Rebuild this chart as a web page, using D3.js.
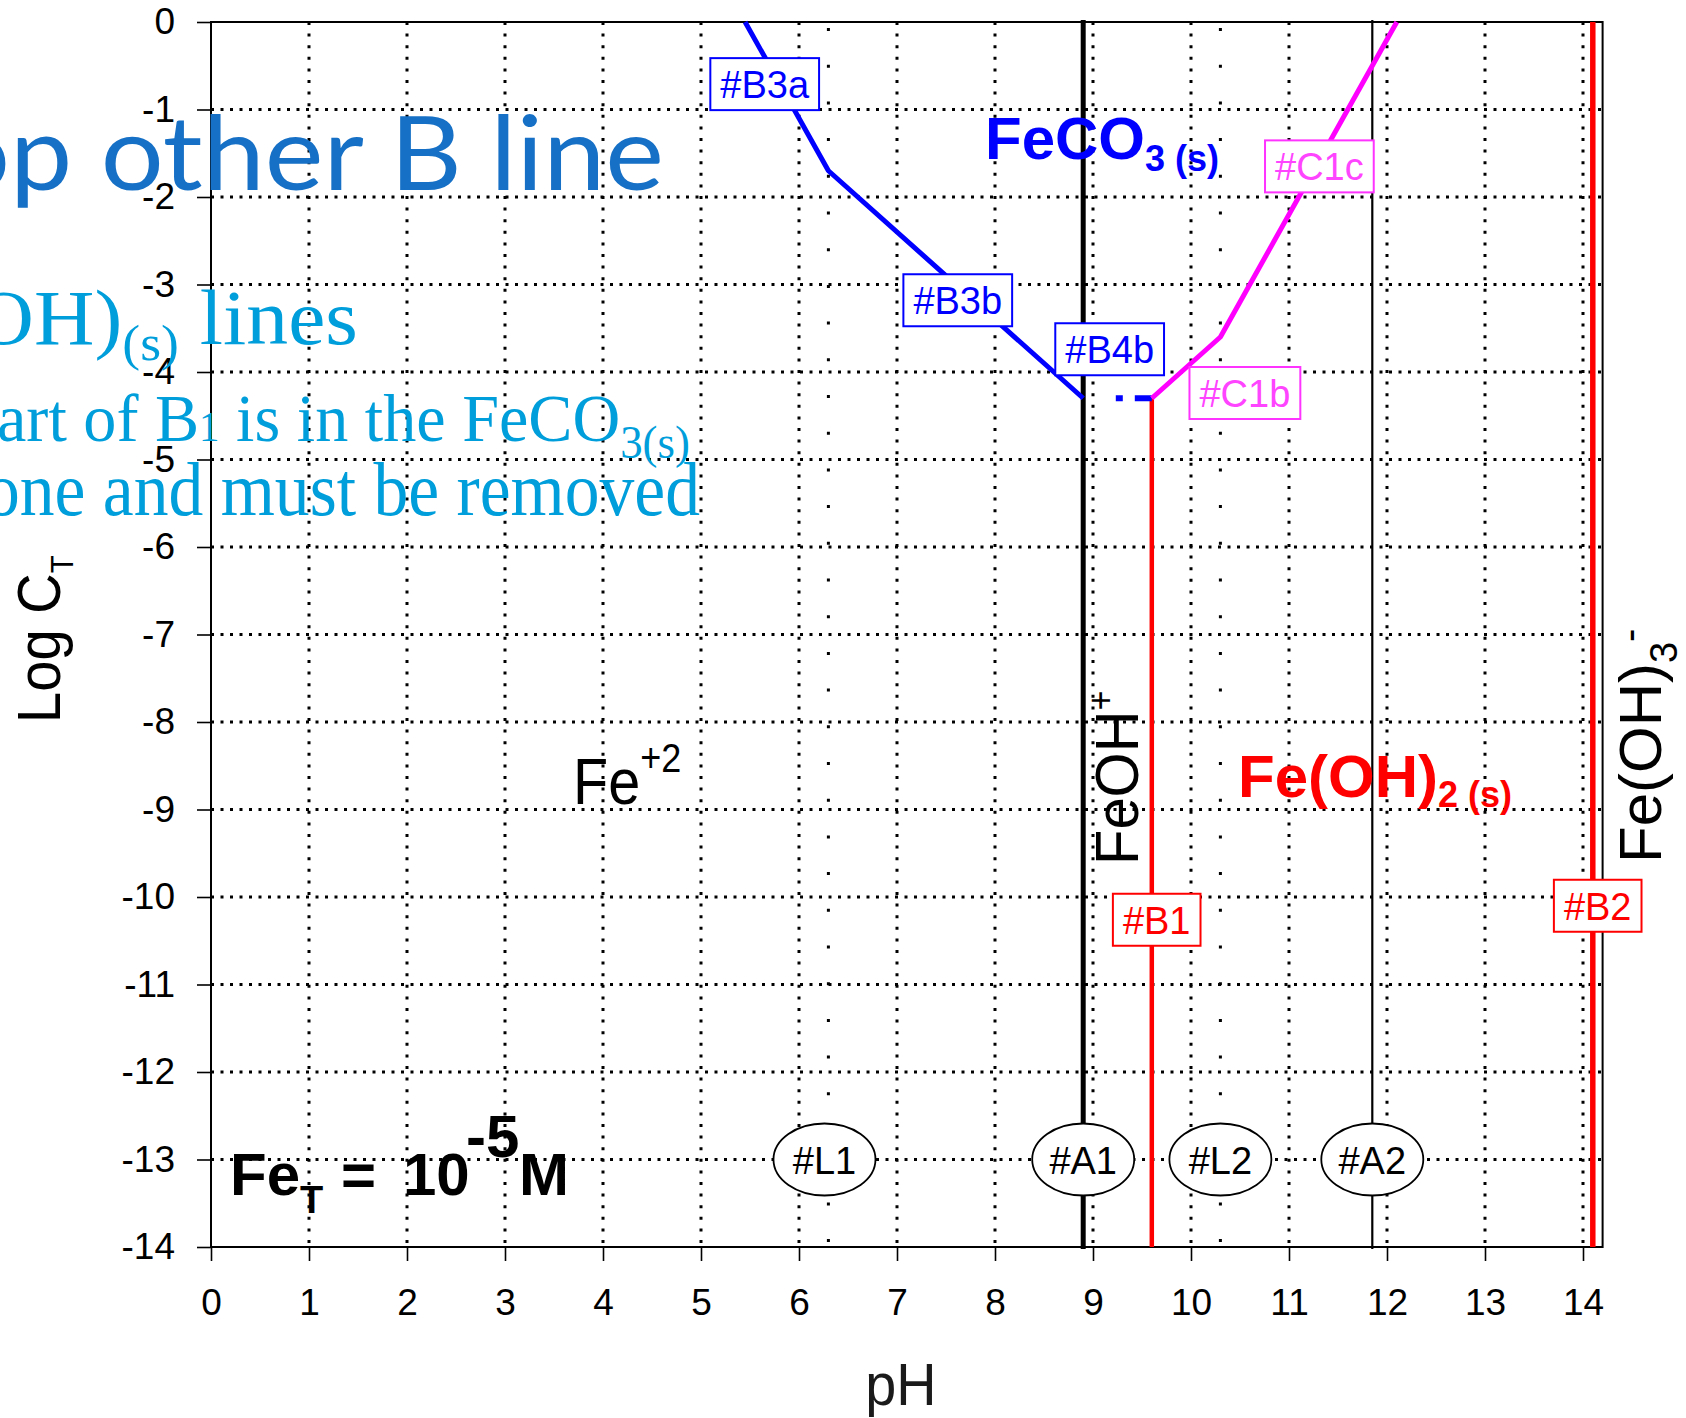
<!DOCTYPE html>
<html>
<head>
<meta charset="utf-8">
<script src="https://cdn.jsdelivr.net/npm/d3@7"></script>
<style>
  body { margin: 0; background: #fff; }
  svg { display: block; }
</style>
</head>
<body>
<svg id="chart" width="1686" height="1418"></svg>
<script>
// ---- Axis ticks ----
const pHTicks  = [0, 1, 2, 3, 4, 5, 6, 7, 8, 9, 10, 11, 12, 13, 14];
const logTicks = [0, -1, -2, -3, -4, -5, -6, -7, -8, -9, -10, -11, -12, -13, -14];

// ---- Species boundaries (pH) ----
const acidBaseNames = ["#A1", "#A2"];
const acidBasePH    = [8.9, 11.85];
const pKaNames      = ["#L1", "#L2"];
const pKaPH         = [6.3, 10.3];

// ---- Solubility lines [pH, log C] ----
const lineB1  = [[9.6, -14], [9.6, -4.3]];
const lineB2  = [[14.1, 0], [14.1, -14]];
const lineB3  = [[5.45, 0], [6.3, -1.7], [8.9, -4.3]];
const lineB4  = [[9.6, -4.3], [8.9, -4.3]];
const lineC1  = [[9.6, -4.3], [10.3, -3.6], [12.1, 0]];

// ---- Circled markers along log C = -13 ----
const markerNames = ["#L1", "#A1", "#L2", "#A2"];
const markerPH    = [6.26, 8.9, 10.3, 11.85];
const markerLog   = [-13, -13, -13, -13];

// ---- Boxed line labels ----
const boxNames = ["#B3a", "#B3b", "#B4b", "#C1c", "#C1b", "#B1", "#B2"];
const boxPH    = [5.65, 7.62, 9.17, 11.31, 10.55, 9.65, 14.15];
const boxLog   = [-0.71, -3.18, -3.74, -1.65, -4.24, -10.26, -10.10];

const SANS  = "'Liberation Sans', Arial, Helvetica, sans-serif";
const SERIF = "'Liberation Serif', 'Times New Roman', serif";

const svg = d3.select("#chart");
const x = d3.scaleLinear().domain([0, 14.2]).range([211, 1602.6]);
const y = d3.scaleLinear().domain([0, -14]).range([22, 1247]);
const line = d3.line().x(d => x(d[0])).y(d => y(d[1]));

// ---- Dotted grid ----
const grid = svg.append("g");
grid.selectAll("line.h").data(logTicks.filter(d => d < 0 && d > -14)).join("line")
  .attr("x1", x(0)).attr("x2", x(14.2)).attr("y1", d => y(d)).attr("y2", d => y(d))
  .attr("stroke", "#000").attr("stroke-width", 3).attr("stroke-dasharray", "3,6.5");
grid.selectAll("line.v").data(pHTicks.filter(d => d > 0)).join("line")
  .attr("x1", d => x(d)).attr("x2", d => x(d)).attr("y1", y(0)).attr("y2", y(-14))
  .attr("stroke", "#000").attr("stroke-width", 3).attr("stroke-dasharray", "3,8.6");
// sparse dotted pKa lines
grid.selectAll("line.l").data(pKaPH).join("line")
  .attr("x1", d => x(d)).attr("x2", d => x(d)).attr("y1", y(0) + 6).attr("y2", y(-14))
  .attr("stroke", "#000").attr("stroke-width", 3).attr("stroke-dasharray", "3,33.7");

// ---- Axes ----
const gY = svg.append("g").attr("transform", `translate(${x(0)},0)`)
  .call(d3.axisLeft(y).tickValues(logTicks).tickSize(14).tickPadding(22).tickFormat(d => String(d)));
gY.select(".domain").remove();
gY.selectAll("line").attr("stroke-width", 1.6);
gY.selectAll("text").attr("font-size", 37).attr("font-family", SANS).attr("fill", "#000");

const gX = svg.append("g").attr("transform", `translate(0,${y(-14)})`)
  .call(d3.axisBottom(x).tickValues(pHTicks).tickSize(14).tickPadding(28).tickFormat(d => String(d)));
gX.select(".domain").remove();
gX.selectAll("line").attr("stroke-width", 1.6);
gX.selectAll("text").attr("font-size", 37).attr("font-family", SANS).attr("fill", "#000");

// frame
svg.append("rect").attr("x", x(0)).attr("y", y(0))
  .attr("width", x(14.2) - x(0)).attr("height", y(-14) - y(0))
  .attr("fill", "none").attr("stroke", "#000").attr("stroke-width", 2);

// ---- Boundary lines ----
svg.selectAll("line.acid").data(acidBasePH).join("line")
  .attr("x1", d => x(d)).attr("x2", d => x(d)).attr("y1", y(0) - 2).attr("y2", y(-14) + 2)
  .attr("stroke", "#000").attr("stroke-width", (d, i) => i === 0 ? 5 : 2.2);

svg.append("path").attr("d", line(lineB1)).attr("fill", "none")
  .attr("stroke", "#ff0000").attr("stroke-width", 4.5);
svg.append("path").attr("d", line(lineB2)).attr("fill", "none")
  .attr("stroke", "#ff0000").attr("stroke-width", 5.5);
svg.append("path").attr("d", line(lineB3)).attr("fill", "none")
  .attr("stroke", "#0000ff").attr("stroke-width", 5).attr("stroke-linejoin", "round");
svg.append("path").attr("d", line(lineB4)).attr("fill", "none")
  .attr("stroke", "#0000ff").attr("stroke-width", 6).attr("stroke-dasharray", "17,12,7,60");
svg.append("path").attr("d", line(lineC1)).attr("fill", "none")
  .attr("stroke", "#ff00ff").attr("stroke-width", 5).attr("stroke-linejoin", "round");

// ---- Circled markers ----
const mk = svg.append("g").selectAll("g").data(markerNames).join("g")
  .attr("transform", (d, i) => `translate(${x(markerPH[i])},${y(markerLog[i])})`);
mk.append("ellipse").attr("rx", 51).attr("ry", 36)
  .attr("fill", "#fff").attr("stroke", "#000").attr("stroke-width", 1.8);
mk.append("text").text(d => d).attr("text-anchor", "middle").attr("y", 14)
  .attr("font-family", SANS).attr("font-size", 38).attr("fill", "#000");

// ---- Boxed labels ----
function boxColor(name) {
  if (name.startsWith("#C")) return { stroke: "#ff33ff", text: "#ff44ff" };
  if (name === "#B1" || name === "#B2") return { stroke: "#ff0000", text: "#ff0000" };
  return { stroke: "#0000ff", text: "#0000ff" };
}
const bx = svg.append("g").selectAll("g").data(boxNames).join("g")
  .attr("transform", (d, i) => `translate(${x(boxPH[i])},${y(boxLog[i])})`);
const bRect = bx.append("rect");
const bText = bx.append("text").text(d => d).attr("text-anchor", "middle").attr("y", 14)
  .attr("font-family", SANS).attr("font-size", 38).attr("fill", d => boxColor(d).text);
bText.each(function (d, i) {
  const w = this.getComputedTextLength() + 20;
  d3.select(bRect.nodes()[i])
    .attr("x", -w / 2).attr("y", -26).attr("width", w).attr("height", 52)
    .attr("fill", "#fff").attr("stroke", boxColor(d).stroke).attr("stroke-width", 2);
});

// ---- Species region labels ----
function label(px, py, rot, sx, parts, attrs) {
  const t = svg.append("text")
    .attr("transform", `translate(${px},${py}) rotate(${rot}) scale(${sx},1)`)
    .attr("font-family", SANS);
  Object.entries(attrs || {}).forEach(([k, v]) => t.attr(k, v));
  parts.forEach(p => {
    const s = t.append("tspan").text(p.t).attr("font-size", p.size);
    if (p.dy) s.attr("dy", p.dy);
    if (p.x !== undefined) s.attr("x", p.x);
  });
  return t;
}
label(573, 804, 0, 0.9, [{ t: "Fe", size: 64 }, { t: "+2", size: 40, dy: -32 }], { fill: "#000" });
label(1138, 865, -90, 0.95, [{ t: "FeOH", size: 61 }, { t: "+", size: 36, dy: -25 }], { fill: "#000" });
label(1661, 863, -90, 1, [{ t: "Fe(OH)", size: 60 }, { t: "3", size: 38, dy: 16 }, { t: "-", size: 40, dy: -34 }], { fill: "#000" });
label(985, 159, 0, 1, [{ t: "FeCO", size: 60 }, { t: "3 (s)", size: 36, dy: 12 }],
  { fill: "#0000ff", "font-weight": "bold" });
label(1238, 797, 0, 1, [{ t: "Fe(OH)", size: 60 }, { t: "2 (s)", size: 36, dy: 10 }],
  { fill: "#ff0000", "font-weight": "bold" });
label(230, 1195, 0, 1, [
  { t: "Fe", size: 60, x: 0 }, { t: "T", size: 38, dy: 18 },
  { t: "=", size: 60, dy: -18, x: 111 }, { t: "10", size: 60, x: 173 },
  { t: "-5", size: 60, dy: -38, x: 236 }, { t: "M", size: 60, dy: 38, x: 289 }
], { fill: "#000", "font-weight": "bold" });

// axis titles
label(901, 1405, 0, 0.93, [{ t: "pH", size: 60 }], { fill: "#1a1a1a", "text-anchor": "middle" });
label(60, 723, -90, 0.92, [{ t: "Log C", size: 61 }, { t: "T", size: 32, dy: 13 }], { fill: "#000" });

// ---- Slide notes written over the plot ----
function note(parts, baseline, family, color, startIdx, startX, endX) {
  const t = svg.append("text").attr("y", baseline).attr("x", 0)
    .attr("font-family", family).attr("fill", color);
  parts.forEach(p => {
    const s = t.append("tspan").text(p.t).attr("font-size", p.size);
    if (p.dy) s.attr("dy", p.dy);
  });
  const node = t.node();
  const n = node.getNumberOfChars();
  const s0 = node.getStartPositionOfChar(startIdx).x;
  const e0 = node.getEndPositionOfChar(n - 1).x;
  const k = (endX - startX) / (e0 - s0);
  t.attr("transform", `translate(${startX - s0 * k},0) scale(${k},1)`);
  return t;
}
note([{ t: "op other B line", size: 103 }], 190, "Lato, 'Open Sans', sans-serif", "#1670c6", 1, 10, 664);
note([{ t: "OH)", size: 78 }, { t: "(s)", size: 50, dy: 16 }, { t: " lines", size: 78, dy: -16 }],
  344, SERIF, "#009edb", 1, 34, 358);
note([{ t: "art of B", size: 68 }, { t: "1", size: 42 }, { t: " is in the FeCO", size: 68 },
      { t: "3(s)", size: 46, dy: 17 }], 441, SERIF, "#009edb", 0, -3, 690);
note([{ t: "one and must be removed", size: 76 }], 515, SERIF, "#009edb", 0, -15, 700);
</script>
</body>
</html>
